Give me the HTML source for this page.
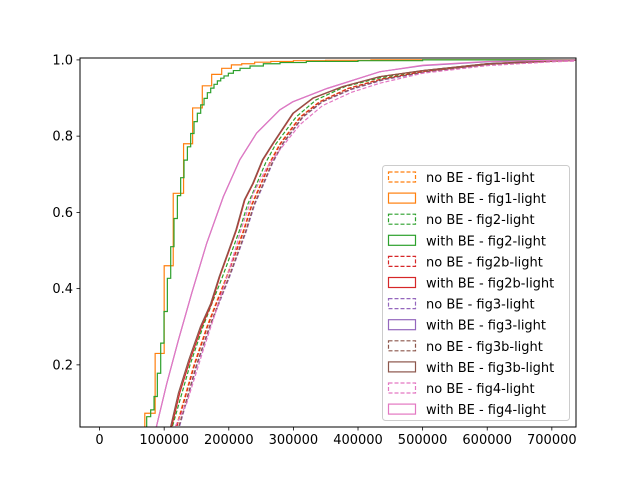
<!DOCTYPE html>
<html><head><meta charset="utf-8"><style>
body{margin:0;background:#fff;}
svg text{font-family:"DejaVu Sans","Liberation Sans",sans-serif;font-size:13px;fill:#000;}
</style></head><body>
<svg id="chart" width="640" height="480" xmlns="http://www.w3.org/2000/svg">
<defs><clipPath id="clip"><rect x="80" y="58" width="496" height="369"/></clipPath></defs>
<rect x="0" y="0" width="640" height="480" fill="#fff"/>
<g id="series" clip-path="url(#clip)"></g>
<rect x="80" y="58" width="496" height="369" fill="none" stroke="#000" stroke-width="1"/>
<g id="xaxis"></g>
<g id="yaxis"></g>
<g id="legend"></g>
</svg>
<script>
const xTicks = [0,100000,200000,300000,400000,500000,600000,700000];
const yTicks = [0.2,0.4,0.6,0.8,1.0];
const yTickLabels = ["0.2","0.4","0.6","0.8","1.0"];
const seriesNames = ["no BE - fig1-light","with BE - fig1-light","no BE - fig2-light","with BE - fig2-light","no BE - fig2b-light","with BE - fig2b-light","no BE - fig3-light","with BE - fig3-light","no BE - fig3b-light","with BE - fig3b-light","no BE - fig4-light","with BE - fig4-light"];
const seriesColors = ["#ff7f0e","#ff7f0e","#2ca02c","#2ca02c","#d62728","#d62728","#9467bd","#9467bd","#8c564b","#8c564b","#e377c2","#e377c2"];
const seriesDashed = [true,false,true,false,true,false,true,false,true,false,true,false];
const seriesStep = [false,true,false,true,false,false,false,false,false,false,false,false];

const fig1NoX = [119000,146000,166000,182000,196000,209000,222000,235000,248000,263000,279000,310000,340000,384000,436000,502000,602000,702000,740000];
const fig1NoC = [0.04,0.2,0.3,0.37,0.43,0.49,0.55,0.62,0.67,0.73,0.78,0.85,0.89,0.925,0.95,0.97,0.989,0.997,0.999];
const fig1WiX = [70000,86000,100000,114000,130000,144000,159000,173500,189000,204000,220000,240000,265000,300000,350000,420000];
const fig1WiC = [0.073,0.23,0.46,0.65,0.78,0.874,0.932,0.962,0.978,0.987,0.99,0.994,0.996,0.998,0.999,1.0];
const fig2NoX = [113000,140000,160000,176000,190000,203000,216000,229000,242000,257000,273000,304000,335000,380000,434000,500000,600000,700000,740000];
const fig2NoC = [0.04,0.2,0.3,0.37,0.43,0.49,0.55,0.62,0.67,0.73,0.78,0.85,0.895,0.93,0.953,0.972,0.99,0.997,0.999];
const fig2WiX = [72900,79100,84300,89400,94600,99700,104900,110100,115200,120400,125500,130700,135900,141000,146200,151300,156500,161700,166800,172000,177100,182300,187500,192600,199300,207100,217400,232900,253500,279300,320000,400000,500000];
const fig2WiC = [0.064,0.082,0.117,0.178,0.257,0.34,0.427,0.51,0.584,0.644,0.691,0.737,0.772,0.807,0.838,0.86,0.882,0.899,0.914,0.926,0.936,0.945,0.952,0.958,0.965,0.972,0.978,0.984,0.99,0.993,0.996,0.998,1.0];
const fig2bNoX = [120000,147000,167000,183000,197000,210000,223000,236000,249000,264000,280000,311000,341000,385000,437000,503000,603000,703000,740000];
const fig2bNoC = [0.04,0.2,0.3,0.37,0.43,0.49,0.55,0.62,0.67,0.73,0.78,0.85,0.89,0.925,0.95,0.97,0.989,0.997,0.999];
const fig2bWiX = [111600,124000,140000,158000,173500,186000,199000,212000,225000,238000,253000,269000,300000,331000,377000,434000,500000,600000,700000,740000];
const fig2bWiC = [0.038,0.126,0.213,0.30,0.361,0.431,0.492,0.554,0.633,0.676,0.738,0.781,0.86,0.90,0.93,0.956,0.972,0.99,0.998,0.999];
const fig3NoX = [124000,151000,171000,187000,201000,214000,227000,240000,253000,268000,284000,315000,345000,389000,440000,505000,605000,705000,740000];
const fig3NoC = [0.04,0.2,0.3,0.37,0.43,0.49,0.55,0.62,0.67,0.73,0.78,0.85,0.89,0.922,0.948,0.968,0.988,0.996,0.999];
const fig3WiX = [88000,104000,122000,142600,165800,191500,217000,243000,279000,299000,352000,434000,500000,600000,700000,740000];
const fig3WiC = [0.038,0.151,0.265,0.388,0.519,0.641,0.738,0.808,0.869,0.89,0.925,0.969,0.985,0.995,0.999,1.0];
const fig3bNoX = [123000,150000,170000,186000,200000,213000,226000,239000,252000,267000,283000,314000,344000,388000,439000,504000,604000,704000,740000];
const fig3bNoC = [0.04,0.2,0.3,0.37,0.43,0.49,0.55,0.62,0.67,0.73,0.78,0.85,0.89,0.923,0.949,0.969,0.988,0.996,0.999];
const fig3bWiX = [110000,122000,138000,156000,172000,185000,198000,211000,224000,237000,252000,268000,299000,330000,376000,433000,500000,600000,700000,740000];
const fig3bWiC = [0.038,0.126,0.213,0.30,0.361,0.431,0.492,0.554,0.633,0.676,0.738,0.781,0.86,0.90,0.93,0.956,0.972,0.99,0.998,0.999];
const fig4NoX = [117000,135000,160500,182000,202000,220000,238000,258000,279000,310000,345000,390000,434000,500000,600000,700000,740000];
const fig4NoC = [0.038,0.1,0.239,0.35,0.457,0.56,0.65,0.715,0.764,0.83,0.88,0.915,0.939,0.965,0.985,0.995,0.997];
const fig4WiX = [88000,104000,122000,142600,165800,191500,217000,243000,279000,299000,352000,434000,500000,600000,700000,740000];
const fig4WiC = [0.038,0.151,0.265,0.388,0.519,0.641,0.738,0.808,0.869,0.89,0.925,0.969,0.986,0.996,0.999,1.0];
const seriesX = [fig1NoX,fig1WiX,fig2NoX,fig2WiX,fig2bNoX,fig2bWiX,fig3NoX,fig3WiX,fig3bNoX,fig3bWiX,fig4NoX,fig4WiX];
const seriesC = [fig1NoC,fig1WiC,fig2NoC,fig2WiC,fig2bNoC,fig2bWiC,fig3NoC,fig3WiC,fig3bNoC,fig3bWiC,fig4NoC,fig4WiC];

const NS="http://www.w3.org/2000/svg";
const L=80,T=58,W=496,H=369,XMIN=-30300,XMAX=737400,YMIN=0.037,YMAX=1.005;
function sx(v){return L+(v-XMIN)/(XMAX-XMIN)*W;}
function sy(v){return T+H-(v-YMIN)/(YMAX-YMIN)*H;}
function mk(tag,attrs,parent){const e=document.createElementNS(NS,tag);for(const k in attrs)e.setAttribute(k,attrs[k]);parent.appendChild(e);return e;}

const gS=document.getElementById('series');
for(let i=0;i<seriesX.length;i++){
  const xs=seriesX[i],cs=seriesC[i];
  let d='M'+sx(xs[0]).toFixed(2)+','+(T+H+5);
  if(seriesStep[i]){
    for(let j=0;j<xs.length;j++){
      d+=' L'+sx(xs[j]).toFixed(2)+','+sy(cs[j]).toFixed(2);
      const nx=j+1<xs.length?xs[j+1]:XMAX+50000;
      d+=' L'+sx(nx).toFixed(2)+','+sy(cs[j]).toFixed(2);
    }
  } else {
    for(let j=0;j<xs.length;j++){
      d+=' L'+sx(xs[j]).toFixed(2)+','+sy(cs[j]).toFixed(2);
    }
    d+=' L'+sx(XMAX+50000).toFixed(2)+','+sy(cs[cs.length-1]).toFixed(2);
  }
  const p=mk('path',{d:d,fill:'none',stroke:seriesColors[i],'stroke-width':1.2},gS);
  if(seriesDashed[i])p.setAttribute('stroke-dasharray','4,2');
  
  
}

const gX=document.getElementById('xaxis');
xTicks.forEach(v=>{
  const x=sx(v);
  const t=mk('line',{x1:x,x2:x,y1:T+H,y2:T+H+3.5,stroke:'#000','stroke-width':0.8},gX);
  
  
  const lb=mk('text',{x:x,y:T+H+17,'text-anchor':'middle'},gX);
  lb.textContent=String(v);
  
  
});
const gY=document.getElementById('yaxis');
yTicks.forEach((v,i)=>{
  const y=sy(v);
  const t=mk('line',{x1:L-3.5,x2:L,y1:y,y2:y,stroke:'#000','stroke-width':0.8},gY);
  
  
  const lb=mk('text',{x:L-7,y:y+4.5,'text-anchor':'end'},gY);
  lb.textContent=yTickLabels[i];
  
  
});

const gL=document.getElementById('legend');
const box=mk('rect',{x:382.5,y:165.5,width:187,height:255,rx:3,fill:'#fff','fill-opacity':0.8,stroke:'#ccc','stroke-width':1},gL);


seriesNames.forEach((n,i)=>{
  const y=176+i*21.1;
  const g=mk('g',{},gL);
  
  
  const r=mk('rect',{x:388.5,y:y-4,width:27,height:10,fill:'none',stroke:seriesColors[i],'stroke-width':1.2},g);
  if(seriesDashed[i])r.setAttribute('stroke-dasharray','4,2');
  
  
  const t=mk('text',{x:426,y:y+6},g);
  t.textContent=n;
  
  
});
</script>
</body></html>
